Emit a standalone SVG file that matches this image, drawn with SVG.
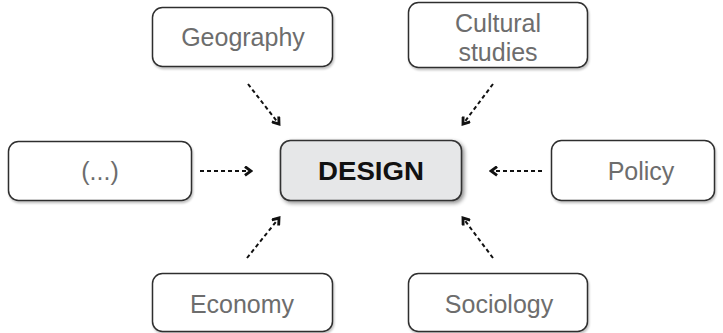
<svg xmlns="http://www.w3.org/2000/svg" width="723" height="333" viewBox="0 0 723 333">
  <defs>
    <filter id="shadow" x="-10%" y="-20%" width="125%" height="150%">
      <feGaussianBlur in="SourceAlpha" stdDeviation="2"/>
      <feOffset dx="1.5" dy="2" result="b"/>
      <feComponentTransfer><feFuncA type="linear" slope="0.45"/></feComponentTransfer>
      <feMerge><feMergeNode/><feMergeNode in="SourceGraphic"/></feMerge>
    </filter>
    <filter id="soft" x="-5%" y="-10%" width="115%" height="130%">
      <feGaussianBlur in="SourceAlpha" stdDeviation="1"/>
      <feOffset dx="1" dy="1.5" result="b"/>
      <feComponentTransfer><feFuncA type="linear" slope="0.25"/></feComponentTransfer>
      <feMerge><feMergeNode/><feMergeNode in="SourceGraphic"/></feMerge>
    </filter>
    <marker id="arrow" viewBox="0 0 10 10" refX="8" refY="5" markerWidth="5.5" markerHeight="5.5" orient="auto" markerUnits="strokeWidth">
      <path d="M2.5,1 L8,5 L2.5,9" fill="none" stroke="#111" stroke-width="2.6"/>
    </marker>
  </defs>
  <style>
    .box { fill: #ffffff; stroke: #2f2f2f; stroke-width: 1.5; }
    .main { fill: #e6e7e8; stroke: #333333; stroke-width: 1.6; }
    .lbl { font-family: "Liberation Sans", Arial, sans-serif; font-size: 25px; fill: #6d6d6d; text-anchor: middle; }
    .mainlbl { font-family: "Liberation Sans", Arial, sans-serif; font-size: 25px; font-weight: bold; fill: #111111; text-anchor: middle; }
    .conn { fill: none; stroke: #111111; stroke-width: 2; stroke-dasharray: 4 3; marker-end: url(#arrow); }
  </style>

  <g id="connectors">
    <line class="conn" x1="200" y1="171" x2="251" y2="171"/>
    <line class="conn" x1="542" y1="171" x2="491" y2="171"/>
    <line class="conn" x1="248" y1="84" x2="279" y2="124"/>
    <line class="conn" x1="493" y1="84" x2="463" y2="124"/>
    <line class="conn" x1="247" y1="258" x2="279" y2="218"/>
    <line class="conn" x1="493" y1="258" x2="463" y2="218"/>
  </g>

  <g id="node-design">
    <rect class="main" x="280.5" y="140.5" width="181" height="60" rx="10" filter="url(#shadow)"/>
    <text class="mainlbl" x="371" y="179.5" textLength="106" lengthAdjust="spacingAndGlyphs">DESIGN</text>
  </g>

  <g id="node-geography">
    <rect class="box" x="152.5" y="7.5" width="180" height="59" rx="10" filter="url(#soft)"/>
    <text class="lbl" x="243" y="46">Geography</text>
  </g>

  <g id="node-cultural">
    <rect class="box" x="408.5" y="2.5" width="179" height="65" rx="10" filter="url(#soft)"/>
    <text class="lbl" x="498" y="32">Cultural</text>
    <text class="lbl" x="498" y="61">studies</text>
  </g>

  <g id="node-other">
    <rect class="box" x="8.5" y="141.5" width="183" height="59" rx="10" filter="url(#soft)"/>
    <text class="lbl" x="100" y="180">(...)</text>
  </g>

  <g id="node-policy">
    <rect class="box" x="551.5" y="140.5" width="163" height="60" rx="10" filter="url(#soft)"/>
    <text class="lbl" x="641" y="180">Policy</text>
  </g>

  <g id="node-economy">
    <rect class="box" x="152.5" y="273.5" width="180" height="58" rx="10" filter="url(#soft)"/>
    <text class="lbl" x="242" y="313">Economy</text>
  </g>

  <g id="node-sociology">
    <rect class="box" x="408.5" y="273.5" width="179" height="58" rx="10" filter="url(#soft)"/>
    <text class="lbl" x="499" y="313">Sociology</text>
  </g>
</svg>
